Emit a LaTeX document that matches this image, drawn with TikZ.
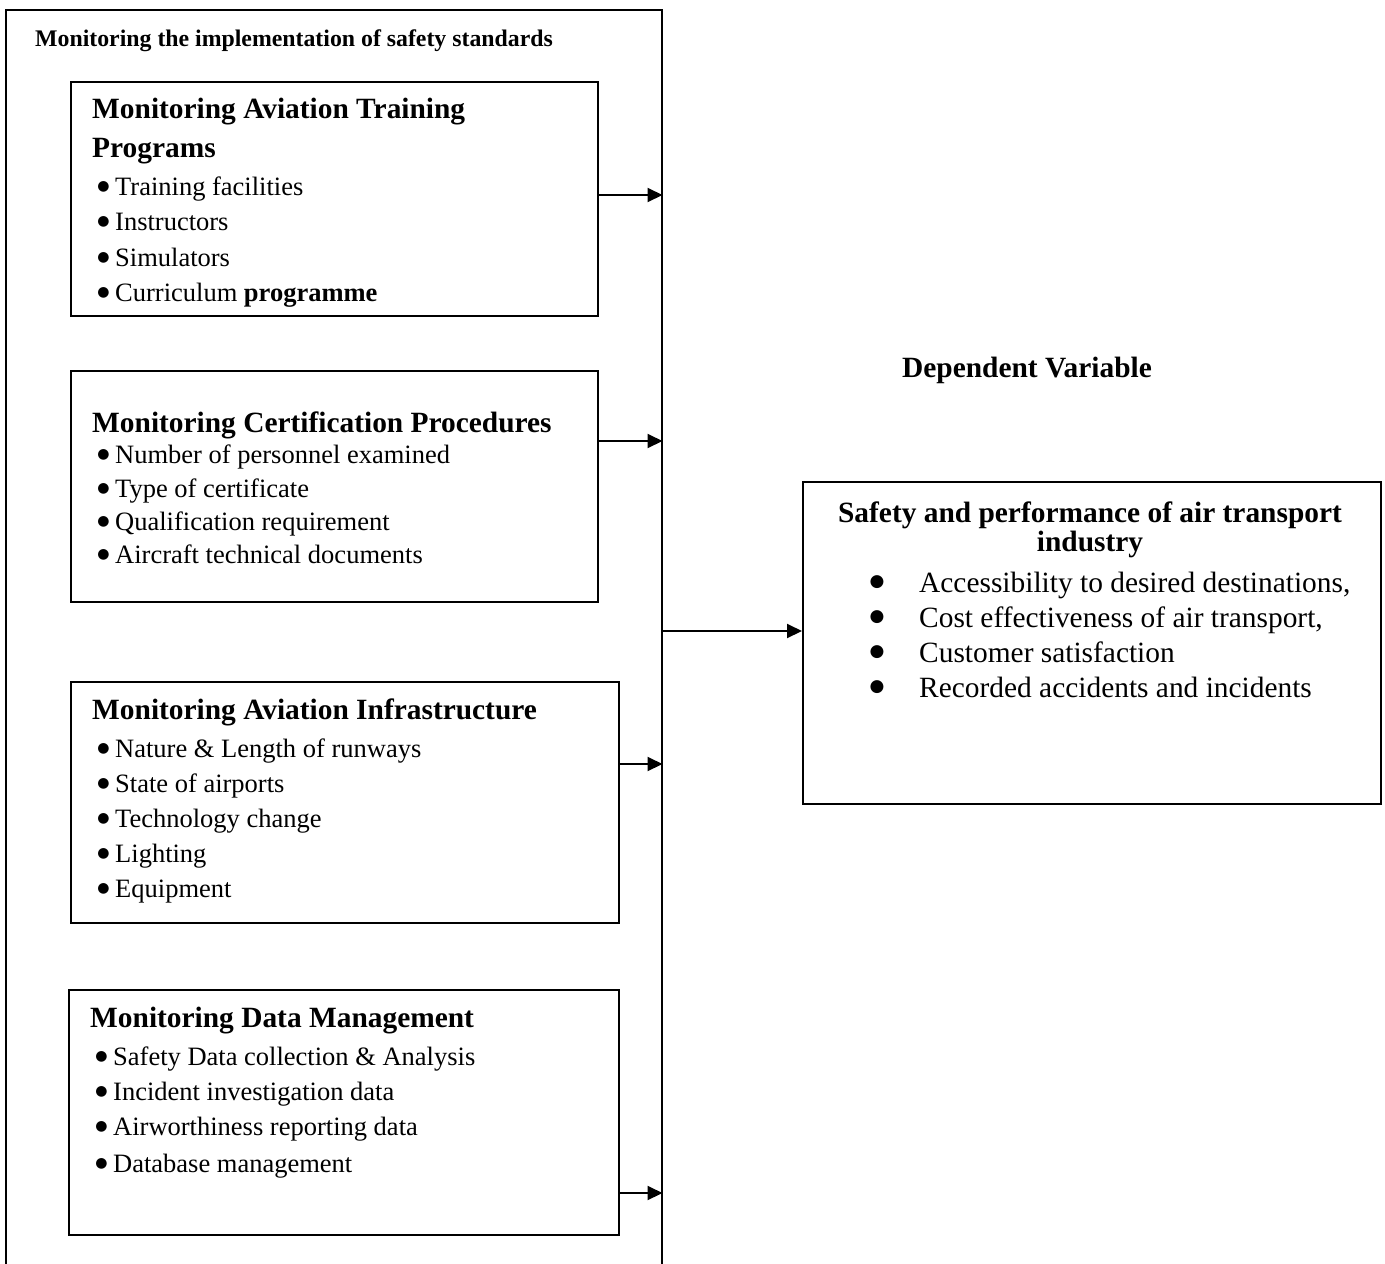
\documentclass[tikz,border=0pt]{standalone}
\usepackage{fontspec}
\setmainfont{Liberation Serif}
\newfontfamily\dvs{DejaVu Sans}
\usetikzlibrary{arrows.meta}
\begin{document}
\begin{tikzpicture}[x=1pt,y=-1pt,
  box/.style={draw, line width=1.8pt, inner sep=0, anchor=north west},
  hdr/.style={font=\fontsize{23.8}{28}\selectfont\bfseries, inner sep=0, anchor=base west},
  ttl/.style={font=\fontsize{29.4}{35}\selectfont\bfseries, inner sep=0, anchor=base west},
  ctl/.style={font=\fontsize{29.4}{35}\selectfont\bfseries, inner sep=0, anchor=base},
  itm/.style={font=\fontsize{26.5}{32}\selectfont, inner sep=0, anchor=base west},
  ritm/.style={font=\fontsize{29.4}{35}\selectfont, inner sep=0, anchor=base west},
  dotl/.style={font=\dvs\fontsize{14}{14}\selectfont, inner sep=0, anchor=center},
  dotr/.style={font=\dvs\fontsize{17}{17}\selectfont, inner sep=0, anchor=center},
  arr/.style={line width=2pt, -{Triangle[length=15pt,width=14pt]}}]
\useasboundingbox (0,0) rectangle (1385,1264);
\fill[white] (0,0) rectangle (1385,1264);
% outer box
\node[box, line width=1.5pt, minimum width=656, minimum height=1320] (outer) at (5,9) {};
\node[hdr] (hd) at (35,46) {Monitoring the implementation of safety standards};
% box 1
\node[box, minimum width=527, minimum height=234] (b1) at (70,81) {};
\node[ttl] (t1a) at (92,118) {Monitoring Aviation Training};
\node[ttl] (t1b) at (92,157) {Programs};
\node[itm] (i11) at (115,195) {Training facilities};
\node[itm] (i12) at (115,230) {Instructors};
\node[itm] (i13) at (115,266) {Simulators};
\node[itm] (i14) at (115,301) {Curriculum \textbf{programme}};
% box 2
\node[box, minimum width=527, minimum height=231] (b2) at (70,370) {};
\node[ttl] (t2) at (92,432) {Monitoring Certification Procedures};
\node[itm] (i21) at (115,463) {Number of personnel examined};
\node[itm] (i22) at (115,497) {Type of certificate};
\node[itm] (i23) at (115,530) {Qualification requirement};
\node[itm] (i24) at (115,563) {Aircraft technical documents};
% box 3
\node[box, minimum width=548, minimum height=241] (b3) at (70,681) {};
\node[ttl] (t3) at (92,719) {Monitoring Aviation Infrastructure};
\node[itm] (i31) at (115,757) {Nature \& Length of runways};
\node[itm] (i32) at (115,792) {State of airports};
\node[itm] (i33) at (115,827) {Technology change};
\node[itm] (i34) at (115,862) {Lighting};
\node[itm] (i35) at (115,897) {Equipment};
% box 4
\node[box, minimum width=550, minimum height=245] (b4) at (68,989) {};
\node[ttl] (t4) at (90,1027) {Monitoring Data Management};
\node[itm] (i41) at (113,1065) {Safety Data collection \& Analysis};
\node[itm] (i42) at (113,1100) {Incident investigation data};
\node[itm] (i43) at (113,1135) {Airworthiness reporting data};
\node[itm] (i44) at (113,1172) {Database management};
% bullets
\foreach \n in {i11,i12,i13,i14,i21,i22,i23,i24,i31,i32,i33,i34,i35,i41,i42,i43,i44}
  \node[dotl] (d\n) at ([xshift=-11.5pt,yshift=8.5pt]\n.base west) {●};
% dependent variable
\node[ctl] (dv) at (1027,377) {Dependent Variable};
\node[box, minimum width=578, minimum height=322] (r) at (802,481) {};
\node[ctl] (rt1) at (1090,522) {Safety and performance of air transport};
\node[ctl] (rt2) at (1090,551) {industry};
\node[ritm] (r1) at (919,592) {Accessibility to desired destinations,};
\node[ritm] (r2) at (919,627) {Cost effectiveness of air transport,};
\node[ritm] (r3) at (919,662) {Customer satisfaction};
\node[ritm] (r4) at (919,697) {Recorded accidents and incidents};
\foreach \n in {r1,r2,r3,r4}
  \node[dotr] (d\n) at ([xshift=-42pt,yshift=9.5pt]\n.base west) {●};
% connectors
\coordinate (y1) at (0,195);
\coordinate (y2) at (0,441);
\coordinate (y3) at (0,764);
\coordinate (y4) at (0,1193);
\coordinate (ym) at (0,631);
\draw[arr] (b1.east |- y1) -- (outer.east |- y1);
\draw[arr] (b2.east |- y2) -- (outer.east |- y2);
\draw[arr] (b3.east |- y3) -- (outer.east |- y3);
\draw[arr] (b4.east |- y4) -- (outer.east |- y4);
\draw[arr] (outer.east |- ym) -- (r.west |- ym);
\end{tikzpicture}
\end{document}
